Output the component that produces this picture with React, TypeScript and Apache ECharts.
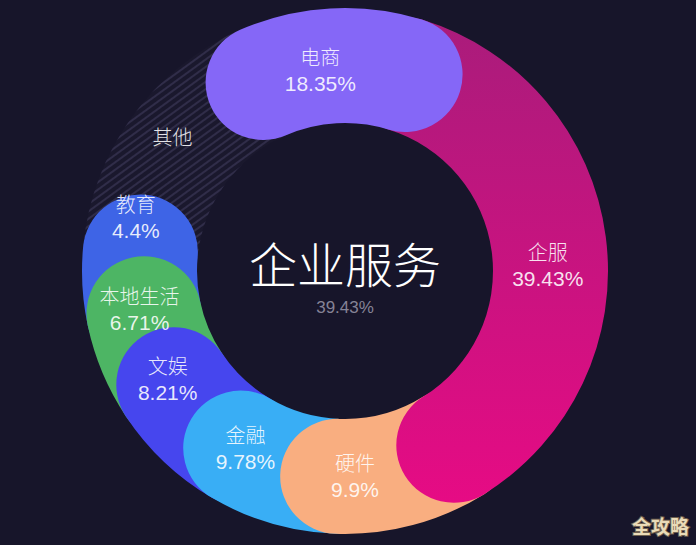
import React, { useEffect, useRef } from 'react';
import * as echarts from 'echarts';

// Ring order: stacked counter-clockwise from the 其他 / 电商 boundary.
const categories = ['其他', '教育', '本地生活', '文娱', '金融', '硬件', '企服', '电商'];
// Printed percentages (label text)
const percentLabels = ['', '4.4%', '6.71%', '8.21%', '9.78%', '9.9%', '39.43%', '18.35%'];
// Share of the ring each arc occupies in the picture (percent of full circle)
const arcShare = [17.0, 4.8, 6.0, 7.2, 7.9, 9.45, 36.4, 11.25];
const centerTitle = '企业服务';
const centerValue = '39.43%';
const watermark = '全攻略';

const BG = '#17152a';
const FONT = "'Noto Sans CJK SC', 'Noto Sans', sans-serif";
const NUM_FONT = "'Liberation Sans', Arial, sans-serif";

const colors: any[] = [
  'rgba(255,255,255,0.015)',
  '#3e64e6',
  '#4db564',
  '#4646ee',
  '#39aef5',
  '#f9ae80',
  {
    type: 'linear', x: 0, y: 0, x2: 0, y2: 1,
    colorStops: [
      { offset: 0, color: '#a91c7b' },
      { offset: 1, color: '#e60b84' },
    ],
  },
  '#8567f7',
];

const labelOffsets: [number, number][] = [
  [-6, -14], [-4, -66], [-16, -42], [-36, -41], [-42, -20], [-43, 6], [-1, 21], [-13, 4],
];

export default function App() {
  const ref = useRef<HTMLDivElement>(null);
  useEffect(() => {
    document.body.style.margin = '0';
    document.body.style.background = BG;
    const chart = echarts.init(ref.current!, null, { renderer: 'svg' });
    const textColor = 'rgba(255,255,255,0.88)';
    const series = categories.map((name, i) => ({
      type: 'bar',
      name,
      coordinateSystem: 'polar',
      stack: 'ring',
      roundCap: true,
      barWidth: '100%',
      data: [arcShare[i]],
      itemStyle: i === 0
        ? {
            color: colors[i],
            decal: {
              symbol: 'rect',
              symbolSize: 1,
              dashArrayX: [1, 0],
              dashArrayY: [2, 4],
              rotation: -Math.PI / 5,
              color: 'rgba(150,140,200,0.18)',
            },
          }
        : { color: colors[i] },
      label: {
        show: true,
        position: 'middle',
        rotate: 0,
        offset: labelOffsets[i],
        formatter: () =>
          percentLabels[i] ? `{n|${name}}\n{p|${percentLabels[i]}}` : `{n|${name}}`,
        align: 'center',
        verticalAlign: 'middle',
        rich: {
          n: {
            color: textColor, fontSize: 20, lineHeight: 27,
            fontFamily: FONT, fontWeight: 300, align: 'center',
          },
          p: {
            color: textColor, fontSize: 21, lineHeight: 27,
            fontFamily: NUM_FONT, align: 'center',
          },
        },
      },
      emphasis: { disabled: true },
    }));

    chart.setOption({
      animation: false,
      backgroundColor: BG,
      polar: { center: [345, 271], radius: [148, 263] },
      angleAxis: {
        type: 'value', min: 0, max: 100, startAngle: 113.5, clockwise: false, show: false,
      },
      radiusAxis: { type: 'category', data: [''], show: false },
      series,
      graphic: [
        {
          type: 'text', x: 345, y: 262,
          style: {
            text: centerTitle, fill: '#ffffff', fontSize: 48, fontWeight: 300,
            fontFamily: FONT, align: 'center', verticalAlign: 'middle',
          },
        },
        {
          type: 'text', x: 345, y: 307,
          style: {
            text: centerValue, fill: '#858396', fontSize: 17,
            fontFamily: NUM_FONT, align: 'center', verticalAlign: 'middle',
          },
        },
        {
          type: 'text', x: 689, y: 525,
          style: {
            text: watermark, fill: '#eadbb8', stroke: '#6e6050', lineWidth: 2,
            fontSize: 19, fontWeight: 'bold', fontFamily: FONT,
            align: 'right', verticalAlign: 'middle',
          },
        },
      ],
    });
    return () => chart.dispose();
  }, []);
  return (
    <div
      ref={ref}
      style={{ position: 'fixed', left: 0, top: 0, width: 696, height: 545 }}
    />
  );
}
